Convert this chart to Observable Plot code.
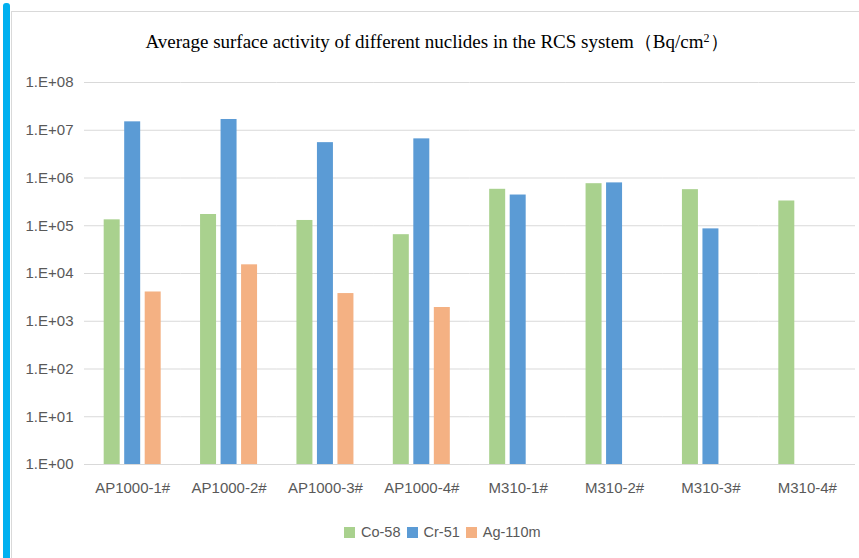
<!DOCTYPE html>
<html>
<head>
<meta charset="utf-8">
<script src="https://cdn.jsdelivr.net/npm/d3@7"></script>
<script src="https://cdn.jsdelivr.net/npm/@observablehq/plot@0.6"></script>
<style>
  html, body { margin: 0; padding: 0; background: #fff; }
  #page { position: relative; width: 859px; height: 558px; overflow: hidden; }
  #accent { position: absolute; left: 3px; top: 3px; width: 7px; height: 560px; background: #00b0f0; border-radius: 3px 3px 0 0; }
  #frame { position: absolute; left: 11px; top: 11px; width: 900px; height: 600px; border-left: 1px solid #d9d9d9; border-top: 1px solid #d9d9d9; }
  #title { position: absolute; left: 15px; width: 844px; top: 29px; text-align: center;
           font-family: "Liberation Serif", "Times New Roman", serif; font-size: 19px; color: #000; }
  #title sup { font-size: 12px; vertical-align: 6px; }
  #chart { position: absolute; left: 0; top: 60px; }
  #legend { position: absolute; left: 344px; top: 524px; display: flex; align-items: center;
            font-family: "Liberation Sans", Arial, sans-serif; font-size: 14.5px; color: #595959; }
  #legend .sw { width: 11px; height: 11px; margin-right: 6px; }
  #legend .item { display: flex; align-items: center; margin-right: 6px; }
</style>
</head>
<body>
<div id="page">
  <div id="accent"></div>
  <div id="frame"></div>
  <div id="title">Average surface activity of different nuclides in the RCS system（Bq/cm<sup>2</sup>）</div>
  <div id="chart"></div>
  <div id="legend"></div>
</div>
<script>
// Units (reactor/plant) on the x axis
const units = ["AP1000-1#", "AP1000-2#", "AP1000-3#", "AP1000-4#", "M310-1#", "M310-2#", "M310-3#", "M310-4#"];
// Nuclide series
const nuclides = ["Co-58", "Cr-51", "Ag-110m"];
const colors = ["#a9d18e", "#5b9bd5", "#f4b183"];
// Average surface activity, Bq/cm² (null = not reported)
const co58 = [1.33e5, 1.72e5, 1.29e5, 6.5e4, 5.8e5, 7.6e5, 5.7e5, 3.3e5];
const cr51 = [1.5e7, 1.68e7, 5.5e6, 6.6e6, 4.4e5, 7.9e5, 8.6e4, null];
const ag110m = [4.1e3, 1.52e4, 3.8e3, 1.94e3, null, null, null, null];
// Log axis ticks
const yTicks = [1e0, 1e1, 1e2, 1e3, 1e4, 1e5, 1e6, 1e7, 1e8];

const series = [co58, cr51, ag110m];
const rows = [];
units.forEach((u, i) => {
  nuclides.forEach((n, j) => {
    const v = series[j][i];
    if (v != null) rows.push({unit: u, nuclide: n, value: v});
  });
});

const fmt = d => "1.E+" + String(Math.round(Math.log10(d))).padStart(2, "0");

const chart = Plot.plot({
  width: 859,
  height: 444,
  marginLeft: 84,
  marginRight: 4,
  marginTop: 22,
  marginBottom: 40,
  style: {fontFamily: "'Liberation Sans', Arial, sans-serif", fontSize: "15px", color: "#595959", background: "transparent"},
  fx: {domain: units, paddingInner: 0, paddingOuter: 0, round: false, label: null},
  x: {domain: nuclides, paddingInner: 0.22, paddingOuter: 0.96, round: false, axis: null},
  y: {type: "log", domain: [1, 1e8], ticks: yTicks, label: null},
  color: {domain: nuclides, range: colors},
  marks: [
    Plot.gridY(yTicks, {stroke: "#d9d9d9", strokeOpacity: 1, strokeWidth: 1}),
    Plot.axisY(yTicks, {tickSize: 0, tickPadding: 11, tickFormat: fmt, fill: "#595959", fontSize: 15, label: null}),
    Plot.axisFx({anchor: "bottom", tickSize: 0, tickPadding: 18, fill: "#595959", fontSize: 15, label: null}),
    Plot.barY(rows, {fx: "unit", x: "nuclide", y1: 1, y2: "value", fill: "nuclide"}),
    Plot.ruleY([1], {stroke: "#d9d9d9", strokeWidth: 1.2})
  ]
});
document.getElementById("chart").appendChild(chart);

// Legend
const legend = document.getElementById("legend");
nuclides.forEach((n, i) => {
  const item = document.createElement("div");
  item.className = "item";
  const sw = document.createElement("div");
  sw.className = "sw";
  sw.style.background = colors[i];
  const label = document.createElement("span");
  label.textContent = n;
  item.appendChild(sw);
  item.appendChild(label);
  legend.appendChild(item);
});
</script>
</body>
</html>
